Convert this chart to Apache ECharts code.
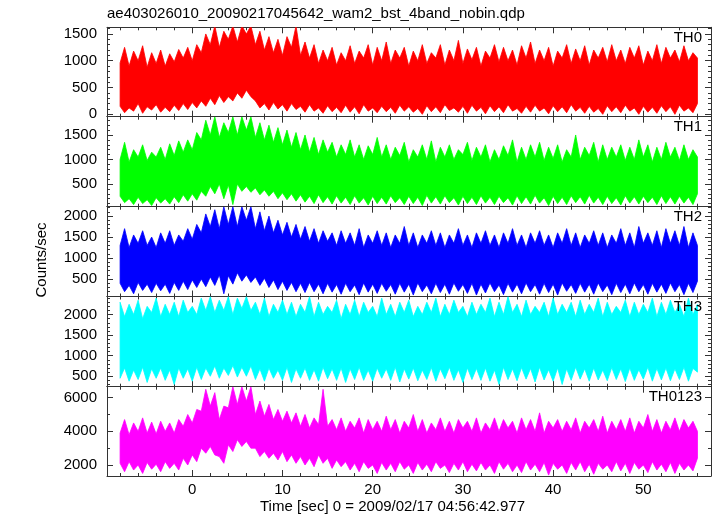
<!DOCTYPE html>
<html><head><meta charset="utf-8">
<script src="https://cdn.jsdelivr.net/npm/echarts@6/dist/echarts.min.js"></script>
<style>html,body{margin:0;padding:0;background:#fff}#c{width:717px;height:516px}</style>
</head><body><div id="c"></div>
<script>
// time sampling (sec): -8 .. 56, every 0.5 s
const timeStart = -8, timeStep = 0.5;

// Envelope of the light curves (upper spikes / lower dips), counts/sec
const th0Hi = [960,1250,900,1180,1000,1280,880,1150,950,1200,
 900,1130,980,1210,1050,1250,1000,1300,1150,1500,
 1300,1650,1250,1550,1400,1650,1350,1650,1500,1650,
 1300,1550,1200,1450,1150,1400,1100,1450,1250,1650,
 1100,1350,1050,1300,950,1200,1000,1250,920,1150,
 1000,1280,950,1180,1050,1300,920,1250,1000,1350,
 950,1200,1050,1250,900,1180,1000,1300,950,1150,
 1050,1300,920,1200,1000,1380,950,1220,1020,1250,
 900,1180,1050,1300,980,1250,1000,1200,920,1280,
 1050,1350,950,1200,1000,1250,900,1180,1050,1300,
 950,1220,1000,1280,920,1200,1050,1250,980,1300,
 1000,1200,950,1250,1050,1280,920,1180,1000,1300,
 950,1250,1050,1200,980,1280,1000,1150,1050];
const th0Lo = [150,30,120,60,200,20,140,80,180,40,
 130,50,170,70,200,90,220,120,250,150,
 300,180,350,220,330,250,400,300,450,330,
 250,120,200,80,220,100,180,60,200,90,
 150,40,180,60,120,20,160,50,130,30,
 170,40,140,10,180,60,120,30,150,50,
 130,20,170,60,140,40,110,0,160,50,
 140,30,180,70,120,40,150,20,170,60,
 130,10,160,50,140,30,180,60,110,20,
 150,40,170,60,120,10,160,50,140,30,
 180,60,130,20,150,40,110,0,160,50,
 140,30,170,60,120,0,150,40,130,20,
 160,50,140,0,170,60,120,30,200];

const th1Hi = [1000,1350,950,1200,1050,1300,980,1150,1050,1250,
 1000,1320,1080,1380,1150,1400,1200,1550,1400,1800,
 1500,1870,1450,1750,1550,1870,1500,1870,1600,1870,
 1450,1750,1400,1700,1350,1650,1300,1600,1250,1550,
 1200,1500,1150,1450,1100,1400,1150,1350,1050,1300,
 1100,1400,1050,1300,1000,1280,1100,1450,1050,1300,
 1000,1250,1080,1350,950,1200,1050,1300,1000,1380,
 950,1250,1050,1300,1000,1200,1100,1350,980,1250,
 1050,1300,950,1200,1000,1280,1080,1400,950,1250,
 1000,1300,1050,1350,980,1250,1020,1300,950,1200,
 1050,1500,1000,1250,1080,1350,950,1300,1000,1250,
 1050,1300,980,1250,1000,1400,1050,1300,950,1250,
 1000,1350,1050,1250,980,1300,1000,1200,1050];
const th1Lo = [250,120,200,80,230,100,180,60,220,110,
 200,90,240,120,280,150,300,170,350,250,
 450,300,500,200,480,80,500,350,450,330,
 420,280,380,250,350,200,320,180,300,150,
 280,130,250,100,280,120,240,90,260,110,
 230,80,260,110,220,70,250,100,230,90,
 260,120,220,80,250,100,230,60,270,110,
 240,90,260,120,220,70,250,100,230,80,
 260,110,230,80,250,120,220,70,260,100,
 240,90,270,110,220,60,250,100,230,80,
 260,120,240,90,270,110,230,80,250,100,
 220,70,260,110,240,90,250,120,230,80,
 260,100,240,90,250,110,230,80,300];

const th2Hi = [1300,1700,1250,1550,1350,1650,1300,1500,1250,1600,
 1350,1650,1300,1550,1400,1700,1450,1800,1600,2050,
 1750,2150,1700,2222,1800,2222,1750,2222,1900,2222,
 1700,2100,1650,2000,1600,1900,1550,1850,1500,1800,
 1450,1750,1400,1700,1350,1650,1400,1600,1300,1650,
 1350,1600,1300,1700,1250,1550,1350,1650,1300,1600,
 1250,1550,1350,1750,1300,1600,1250,1550,1350,1650,
 1300,1600,1250,1550,1350,1700,1300,1550,1250,1600,
 1350,1650,1300,1550,1250,1600,1350,1700,1300,1550,
 1250,1600,1350,1650,1300,1550,1250,1600,1350,1700,
 1300,1600,1250,1550,1350,1650,1300,1600,1250,1550,
 1350,1700,1300,1600,1250,1750,1350,1600,1300,1650,
 1250,1700,1350,1650,1300,1750,1250,1600,1300];
const th2Lo = [400,200,350,150,420,230,380,180,400,220,
 380,160,420,230,450,250,480,300,500,320,
 550,350,600,150,580,380,650,450,600,420,
 550,350,520,300,480,250,450,230,420,200,
 400,180,420,200,380,150,400,190,370,140,
 400,200,360,130,410,190,380,160,400,210,
 370,140,400,190,380,120,410,200,360,150,
 400,180,380,140,410,210,370,160,400,120,
 380,170,410,200,360,130,400,190,380,150,
 410,200,370,140,400,180,380,120,410,210,
 370,160,400,190,380,140,410,200,360,130,
 400,180,380,150,410,200,370,140,400,190,
 380,160,410,200,370,130,400,180,450];

const th3Hi = [2300,1950,2250,2000,2350,1900,2200,2050,2400,1950,
 2250,2000,2300,1950,2350,2050,2200,2000,2400,2100,
 2439,2050,2350,2100,2439,2000,2400,2150,2439,2100,
 2300,2000,2400,1950,2250,2050,2350,2000,2300,1950,
 2250,2050,2439,1950,2300,2000,2200,2050,2350,1900,
 2250,2000,2350,1950,2300,2050,2200,1950,2400,2000,
 2250,1950,2300,2050,2350,1950,2200,2000,2300,2050,
 2400,1950,2250,2000,2350,2050,2200,1950,2300,2000,
 2250,2050,2400,1950,2300,2000,2439,2050,2250,1950,
 2350,2000,2200,2050,2300,1950,2400,2000,2250,2050,
 2300,1950,2350,2000,2250,2050,2400,1950,2300,2000,
 2200,2050,2350,1950,2300,2000,2250,2050,2400,1950,
 2300,2000,2350,2050,2250,1950,2400,2000,2250];
const th3Lo = [450,700,380,650,420,720,350,680,450,700,
 400,650,300,700,450,680,380,720,420,700,
 500,750,450,700,520,760,480,720,500,750,
 420,680,380,700,450,650,400,720,350,680,
 450,700,400,660,380,720,440,680,400,700,
 350,680,420,720,400,650,380,700,450,680,
 400,720,360,680,430,700,390,650,420,710,
 380,680,440,720,400,660,350,700,420,690,
 400,700,380,650,300,720,420,680,390,710,
 430,690,360,720,410,660,380,700,300,680,
 400,720,430,680,380,700,410,650,390,710,
 420,680,370,700,400,660,430,720,380,690,
 410,700,390,680,420,720,380,690,600];

const th0123Hi = [3900,4700,3800,4500,4000,4800,3900,4550,3850,4600,
 4000,4500,3900,4700,4300,5000,4500,5300,5200,6500,
 5500,6300,4700,5500,5400,6653,5600,6653,5800,6653,
 5000,5800,4900,5600,4700,5300,4600,5200,4500,5100,
 4300,5000,4200,4800,4400,6500,4300,4700,4100,4800,
 4000,4600,4200,4800,3900,4700,4100,4600,4000,4900,
 4100,4700,3900,4600,4200,5000,4000,4700,3900,4500,
 4100,4800,4000,4600,3900,4700,4200,4600,4000,4800,
 3900,4500,4100,4800,4000,4700,4200,4600,3900,4800,
 4100,4700,4000,5100,3900,4600,4200,4700,4000,4600,
 4100,4800,3900,4600,4200,4700,4000,4900,3900,4600,
 4100,4700,4000,4800,3900,4600,4200,5000,4000,4700,
 3900,4600,4100,4800,4000,4700,4200,4600,4000];
const th0123Lo = [2100,1600,2200,1700,2000,1500,2150,1750,2050,1600,
 2200,1800,2100,1700,2400,2000,2600,2200,3000,2700,
 3100,2600,2500,2100,3200,2800,3500,3100,3400,3000,
 3000,2500,2800,2400,2700,2300,2800,2200,2600,2100,
 2500,2000,2400,1900,2600,2100,2400,1800,2300,1900,
 2200,1700,2100,1600,2200,1800,2000,1500,2150,1700,
 2100,1600,2200,1750,2000,1500,2150,1700,2050,1600,
 2200,1800,2000,1550,2100,1700,2200,1600,2050,1650,
 2150,1700,2000,1500,2200,1750,2100,1600,2000,1550,
 2200,1700,2050,1600,2150,1400,2100,1750,2000,1500,
 2150,1700,2200,1600,2050,1450,2100,1750,2000,1600,
 2200,1650,2100,1500,2150,1750,2000,1550,2200,1700,
 2050,1600,2150,1500,2100,1700,2000,1650,2400];

// tick labels
const th0Ticks = [0,500,1000,1500];
const th1Ticks = [500,1000,1500];
const th2Ticks = [500,1000,1500,2000];
const th3Ticks = [500,1000,1500,2000];
const th0123Ticks = [2000,4000,6000];
const xTicks = [0,10,20,30,40,50];

const titleText = 'ae403026010_20090217045642_wam2_bst_4band_nobin.qdp';
const xTitle = 'Time [sec] 0 = 2009/02/17 04:56:42.977';
const yTitle = 'Counts/sec';

const FONT = '"Liberation Sans", Arial, Helvetica, sans-serif';
const panels = [
  {name:'TH0', color:'#ff0000', min:-44, max:1624, hi:th0Hi, lo:th0Lo, ticks:th0Ticks, minorStep:100},
  {name:'TH1', color:'#00ff00', min:37, max:1873, hi:th1Hi, lo:th1Lo, ticks:th1Ticks, minorStep:100},
  {name:'TH2', color:'#0000ff', min:86, max:2222, hi:th2Hi, lo:th2Lo, ticks:th2Ticks, minorStep:100},
  {name:'TH3', color:'#00ffff', min:246, max:2439, hi:th3Hi, lo:th3Lo, ticks:th3Ticks, minorStep:100},
  {name:'TH0123', color:'#ff00ff', min:1347, max:6653, hi:th0123Hi, lo:th0123Lo, ticks:th0123Ticks, minorStep:1000}
];
const tops = [27.3, 116.7, 206.7, 296.5, 386.7];
const bottoms = [116.7, 206.7, 296.5, 386.7, 476];
const X_MIN = -9.45, X_MAX = 57.5;
const xMinor = []; for (let v = -8; v <= 56; v += 2) xMinor.push(v);
const times = th0Hi.map((_, k) => timeStart + k * timeStep);

const AX = '#333';
const grids = [], xAxes = [], yAxes = [], series = [], graphics = [];
const plain = v => String(v);

panels.forEach((p, i) => {
  grids.push({left:107, width:604, top:tops[i], height:bottoms[i]-tops[i], containLabel:false});
  const yMinor = [];
  for (let v = Math.ceil(p.min / p.minorStep) * p.minorStep; v <= p.max; v += p.minorStep) yMinor.push(v);
  const xBase = {gridIndex:i, type:'value', min:X_MIN, max:X_MAX, splitLine:{show:false}};
  const yBase = {gridIndex:i, type:'value', min:p.min, max:p.max, splitLine:{show:false}};
  const tickStyle = {color:AX, width:1};
  xAxes.push(Object.assign({}, xBase, {position:'bottom',
    axisLine:{show:true, onZero:false, lineStyle:{color:AX, width:1}},
    axisTick:{show:true, inside:true, length:6, customValues:xTicks, lineStyle:tickStyle},
    axisLabel:{show:i===4, customValues:xTicks, formatter:plain, margin:6, color:'#000', fontSize:15, fontFamily:FONT}}));
  xAxes.push(Object.assign({}, xBase, {position:'bottom',
    axisLine:{show:false, onZero:false},
    axisTick:{show:true, inside:true, length:3, customValues:xMinor, lineStyle:tickStyle},
    axisLabel:{show:false}}));
  xAxes.push(Object.assign({}, xBase, {position:'top',
    axisLine:{show:true, onZero:false, lineStyle:{color:AX, width:1}},
    axisTick:{show:true, inside:true, length:6, customValues:xTicks, lineStyle:tickStyle},
    axisLabel:{show:false}}));
  xAxes.push(Object.assign({}, xBase, {position:'top',
    axisLine:{show:false, onZero:false},
    axisTick:{show:true, inside:true, length:3, customValues:xMinor, lineStyle:tickStyle},
    axisLabel:{show:false}}));
  yAxes.push(Object.assign({}, yBase, {position:'left',
    axisLine:{show:true, onZero:false, lineStyle:{color:AX, width:1}},
    axisTick:{show:true, inside:true, length:6, customValues:p.ticks, lineStyle:tickStyle},
    axisLabel:{show:true, customValues:p.ticks, formatter:plain, margin:10, color:'#000', fontSize:15, fontFamily:FONT}}));
  yAxes.push(Object.assign({}, yBase, {position:'left',
    axisLine:{show:false, onZero:false},
    axisTick:{show:true, inside:true, length:3, customValues:yMinor, lineStyle:tickStyle},
    axisLabel:{show:false}}));
  yAxes.push(Object.assign({}, yBase, {position:'right',
    axisLine:{show:true, onZero:false, lineStyle:{color:AX, width:1}},
    axisTick:{show:true, inside:true, length:6, customValues:p.ticks, lineStyle:tickStyle},
    axisLabel:{show:false}}));
  yAxes.push(Object.assign({}, yBase, {position:'right',
    axisLine:{show:false, onZero:false},
    axisTick:{show:true, inside:true, length:3, customValues:yMinor, lineStyle:tickStyle},
    axisLabel:{show:false}}));

  // band between the lower and upper envelope, drawn through the axes' scales
  series.push({type:'custom', name:p.name, xAxisIndex:i*4, yAxisIndex:i*4, clip:true, silent:true,
    animation:false, z:1,
    data: times.map((t, k) => [t, p.lo[k], p.hi[k]]),
    encode:{x:0, y:[1,2]},
    renderItem:(params, api) => {
      if (params.dataIndex !== 0) return null;
      const pts = [];
      for (let k = 0; k < times.length; k++) pts.push(api.coord([times[k], p.hi[k]]));
      for (let k = times.length - 1; k >= 0; k--) pts.push(api.coord([times[k], p.lo[k]]));
      return {type:'polygon', shape:{points:pts},
        style:{fill:p.color, stroke:p.color, lineWidth:0.8}};
    }});

  graphics.push({type:'text', right:15, top:tops[i] + 3, z:10,
    style:{text:p.name, font:'15px ' + FONT, fill:'#000'}});
});

graphics.push({type:'text', left:107, top:6, style:{text:titleText, font:'15px ' + FONT, fill:'#000'}});
graphics.push({type:'text', left:260, top:499, style:{text:xTitle, font:'15px ' + FONT, fill:'#000'}});
graphics.push({type:'text', x:42, y:260, rotation:Math.PI/2,
  style:{text:yTitle, font:'15px ' + FONT, fill:'#000', align:'center', verticalAlign:'middle'}});

const chart = echarts.init(document.getElementById('c'), null, {renderer:'canvas'});
chart.setOption({
  backgroundColor:'#fff',
  animation:false,
  grid:grids, xAxis:xAxes, yAxis:yAxes, series:series, graphic:graphics
});
</script>
</body></html>
